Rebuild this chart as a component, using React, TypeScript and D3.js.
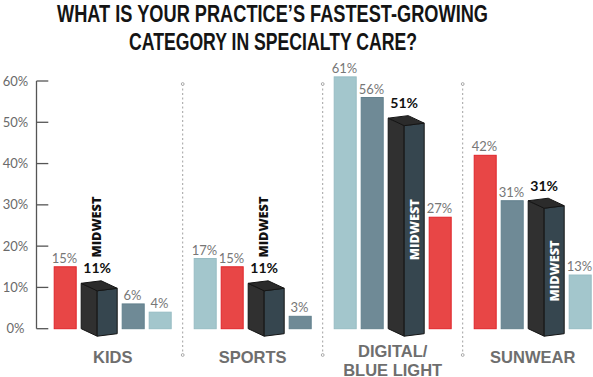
import React from "react";
import * as d3 from "d3";

const categories = ["KIDS", "SPORTS", "DIGITAL/BLUE LIGHT", "SUNWEAR"];
const categoryLines = [["KIDS"], ["SPORTS"], ["DIGITAL/", "BLUE LIGHT"], ["SUNWEAR"]];
const seriesNames = ["Region A", "Region B", "Region C", "Midwest"];
const redValues = [15, 15, 27, 42];
const slateValues = [6, 3, 56, 31];
const lightValues = [4, 17, 61, 13];
const midwestValues = [11, 11, 51, 31];
const yTicks = [0, 10, 20, 30, 40, 50, 60];
const titleLines = ["WHAT IS YOUR PRACTICE\u2019S FASTEST-GROWING", "CATEGORY IN SPECIALTY CARE?"];

const W = 593;
const H = 377;

const seriesStyle = [
  { fill: "#e84646", stroke: "#e0252b" },
  { fill: "#6f8a96", stroke: "#62808d" },
  { fill: "#a3c6cc", stroke: "#97bdc4" },
];

export default function App() {
  const y = d3.scaleLinear().domain([0, 60]).range([328.7, 81]);
  const x0 = d3.scaleBand<string>().domain(categories).range([42.7, 602.7]).padding(0);
  const allSeries = [redValues, slateValues, lightValues, midwestValues];
  const barW = 22;
  const boxW = 36;
  const gap = 5;
  const inset = 11.5;
  const y0 = y(0);
  const fx = 16, fy = 7.5, rx = 36, ry = 5, bx = 20, by = -2.5;
  const titleScale = 0.78;

  const groups = categories.map((c, ci) => {
    const items = allSeries.map((s, si) => ({ si, v: s[ci] }));
    const sorted = items.slice().sort((a, b) => b.v - a.v);
    let cursor = (x0(c) as number) + inset;
    const placed = sorted.map((it) => {
      const w = it.si === 3 ? boxW : barW;
      const xl = cursor;
      cursor += w + gap;
      return { ...it, xl, w };
    });
    return { c, ci, placed };
  });

  const separators = categories.slice(1).map((c) => x0(c) as number);

  return (
    <svg width={W} height={H} style={{ position: "absolute", left: 0, top: 0, background: "#fff" }}>
      {/* title */}
      {titleLines.map((t, i) => (
        <text
          key={i}
          transform={`translate(${i === 0 ? 57 : 129},${i === 0 ? 22 : 50}) scale(${titleScale},1)`}
          textLength={(i === 0 ? 431 : 288) / titleScale}
          lengthAdjust="spacingAndGlyphs"
          fontFamily="'Liberation Sans Narrow', 'Liberation Sans', Arial, sans-serif"
          fontWeight="bold"
          fontSize={23}
          fill="#141414"
        >
          {t}
        </text>
      ))}

      {/* y axis */}
      <line x1={36.5} x2={36.5} y1={y(60)} y2={y0} stroke="#555" strokeWidth={1.3} />
      {yTicks.map((t) => (
        <g key={t}>
          <line x1={36.5} x2={48.3} y1={y(t)} y2={y(t)} stroke="#555" strokeWidth={1.3} />
          <text
            x={15.5}
            y={y(t) + 4.5}
            textAnchor="middle"
            fontFamily="Lato, 'Open Sans', sans-serif"
            fontSize={13}
            fill="#6a6a6a"
          >
            {t}%
          </text>
        </g>
      ))}

      {/* separators */}
      {separators.map((sx, i) => (
        <g key={i}>
          <line x1={sx} x2={sx} y1={84} y2={355} stroke="#a0a0a0" strokeWidth={1} strokeDasharray="2 2.5" />
          <circle cx={sx} cy={84} r={1.4} fill="#fff" stroke="#a0a0a0" strokeWidth={0.9} />
          <circle cx={sx} cy={355} r={1.4} fill="#fff" stroke="#a0a0a0" strokeWidth={0.9} />
        </g>
      ))}

      {/* bars */}
      {groups.map((g) => (
        <g key={g.c}>
          {g.placed.map((p) => {
            const yt = y(p.v);
            if (p.si !== 3) {
              const st = seriesStyle[p.si];
              return (
                <g key={p.si}>
                  <rect x={p.xl} y={yt} width={p.w} height={y0 - yt} fill={st.fill} stroke={st.stroke} strokeWidth={1} />
                  <text
                    x={p.xl + p.w / 2 - 0.8}
                    y={yt - 4}
                    textAnchor="middle"
                    fontFamily="Lato, 'Open Sans', sans-serif"
                    fontSize={13}
                    fill="#777"
                  >
                    {p.v}%
                  </text>
                </g>
              );
            }
            const xl = p.xl;
            const left = [[xl, yt], [xl + fx, yt + fy], [xl + fx, y0 + fy], [xl, y0]];
            const right = [[xl + fx, yt + fy], [xl + rx, yt + ry], [xl + rx, y0 + ry], [xl + fx, y0 + fy]];
            const top = [[xl, yt], [xl + bx, yt + by], [xl + rx, yt + ry], [xl + fx, yt + fy]];
            const pts = (a: number[][]) => a.map((q) => q.join(",")).join(" ");
            const labelY = yt - 10;
            const inside = p.v > 20;
            const rcx = xl + (fx + rx) / 2;
            const rcy = (yt + y0) / 2 + (fy + ry) / 2;
            return (
              <g key={p.si}>
                <polygon points={pts(left)} fill="#303030" stroke="#151515" strokeWidth={1} strokeLinejoin="round" />
                <polygon points={pts(right)} fill="#36464f" stroke="#151515" strokeWidth={1} strokeLinejoin="round" />
                <polygon points={pts(top)} fill="#2b2b2b" stroke="#151515" strokeWidth={1} strokeLinejoin="round" />
                <text
                  x={xl + fx}
                  y={labelY}
                  textAnchor="middle"
                  fontFamily="Lato, 'Open Sans', sans-serif"
                  fontWeight="bold"
                  fontSize={14}
                  fill="#111"
                >
                  {p.v}%
                </text>
                {inside ? (
                  <text
                    transform={`translate(${rcx},${rcy}) rotate(-90)`}
                    textAnchor="middle"
                    dominantBaseline="central"
                    fontFamily="'Open Sans', Lato, sans-serif"
                    fontWeight="800"
                    fontSize={12.5}
                    textLength={61}
                    lengthAdjust="spacingAndGlyphs"
                    fill="#fff"
                  >
                    {seriesNames[3].toUpperCase()}
                  </text>
                ) : (
                  <text
                    transform={`translate(${xl + 15},${labelY - 15.7}) rotate(-90)`}
                    textAnchor="start"
                    dominantBaseline="central"
                    fontFamily="'Open Sans', Lato, sans-serif"
                    fontWeight="800"
                    fontSize={12.5}
                    textLength={61}
                    lengthAdjust="spacingAndGlyphs"
                    fill="#111"
                  >
                    {seriesNames[3].toUpperCase()}
                  </text>
                )}
              </g>
            );
          })}
          {categoryLines[g.ci].map((ln, li) => (
            <text
              key={li}
              x={(x0(g.c) as number) + x0.bandwidth() / 2}
              y={(categoryLines[g.ci].length > 1 ? 356.7 : 363.3) + li * 18.8}
              textAnchor="middle"
              fontFamily="'Liberation Sans', Arial, sans-serif"
              fontWeight="bold"
              fontSize={16.5}
              fill="#6e6e6e"
            >
              {ln}
            </text>
          ))}
        </g>
      ))}
    </svg>
  );
}
